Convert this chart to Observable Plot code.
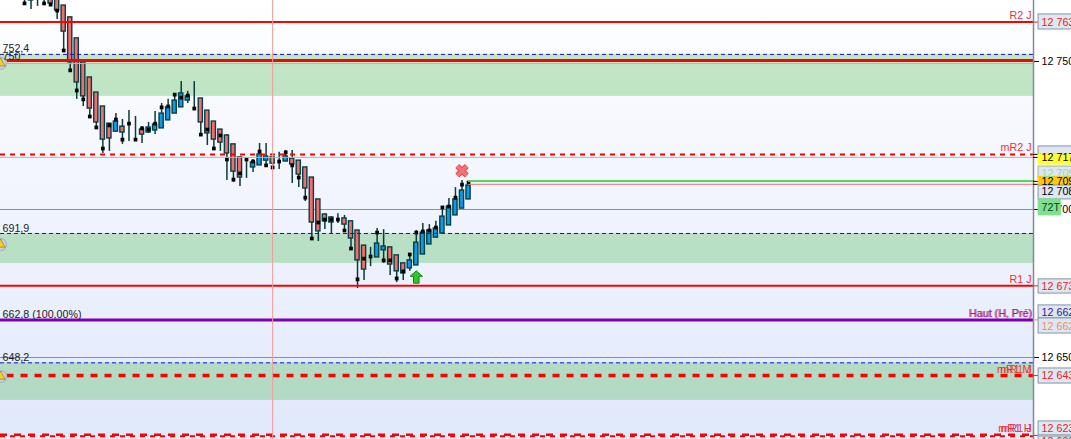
<!DOCTYPE html>
<html><head><meta charset="utf-8">
<style>html,body{margin:0;padding:0;background:#fff;overflow:hidden}svg{display:block}</style>
<script src="https://cdn.jsdelivr.net/npm/d3@7"></script>
<script src="https://cdn.jsdelivr.net/npm/@observablehq/plot@0.6"></script>
</head><body><div id="c"></div>
<script>
const base = 12000;
const open = [774,770.8,773,774,773,772,768.9,764.9,757.8,749.7,744.6,739.5,734.8,729,726.3,728,727.4,727,727,726,726.7,727.4,730.1,732.4,734.5,736.8,737.5,737.5,733.4,729.7,727,725,722,717.6,714.5,714.2,714.9,716.5,717.6,716.2,716.2,717.2,716.5,714.2,710.8,703.4,698.3,695.6,696.6,697,696,692.9,687.8,684.1,683.8,686.2,687.2,684.5,681.8,680.1,681.1,684.8,688.2,690.5,691.9,694.6,698,700.3,703.4];
const close = [773.3,770.6,772,773,769.6,767.2,760.1,749.7,742.9,738.2,734.1,729.4,723.6,724,729.7,726,727.4,727,725.3,727.7,728.7,732.4,734.5,736.8,739.2,738.2,737.5,729.4,725.7,723.6,722.6,718.9,712.8,710.8,714.5,715.9,718.6,717.9,715.5,716.2,717.9,715.2,711.8,707.1,695.6,692.6,696,697.3,696.6,694.9,690.2,682.8,679.7,684.1,688.5,687.5,681.4,679.1,678.4,682.8,688.8,692.2,692.9,693.6,697.6,701,703.4,706.4,708.1];
const high = [774.5,771.5,774,775,774,773,768.9,764.9,757.8,749.7,744.6,739.5,734.8,729,732.4,730.4,733.4,731.4,728,729.4,733.1,735.8,737.2,739.2,743.2,739.9,743.2,737.5,733.4,729.7,727,725.3,722,717.6,717.2,716.9,722.3,722.3,717.6,719.3,719.9,719.9,716.5,714.2,710.8,703.4,698.6,697.6,698.6,698,696,692.9,687.8,687.2,693.6,693.2,687.2,684.5,681.8,685.1,692.9,695.3,694.9,696,700.7,703.7,707.4,709.8,709.1];
const low = [769.6,767.6,768.6,769.6,768.6,764.2,753.7,747,737.2,734.8,731.4,727.7,718.9,719.6,726.3,722,723,723,722.3,725.7,725.3,727.4,730.1,732.4,734.5,735.8,733.4,725.3,721.6,720.3,719.6,709.8,709.1,707.8,710.5,712.5,714.9,714.2,714.2,713.5,716.2,708.8,707.4,702.7,689.5,689.2,693.2,691.9,695.3,692.9,686.8,673.3,676,680.7,683.8,681.8,677.7,675.3,676,679.1,681.1,684.8,688.2,690.5,691.9,694.6,698,700.3,703.4];
const marker = [769.6,773,773,769.6,769.2,767.2,753.7,747,740.2,737.2,731.4,727.7,720.6,728.4,730.4,723.6,729,723.6,727.4,727,729,734.5,734.8,738.8,737.8,738.5,734.1,725.3,727,720.6,725,716.9,710.1,712.2,716.9,716.2,719.6,714.9,714.2,716.2,719.3,714.9,710.8,704,690.2,695.6,696.6,696.6,696.6,692.9,686.8,676.4,683.4,684.1,692.2,682.8,682.8,676.7,679.1,684.8,692.2,692.6,692.9,693.9,700.7,701,704,708.4,709.1];
const bars = open.map((o,i)=>({i,o:base+o,c:base+close[i],h:base+high[i],l:base+low[i],m:base+marker[i]}));

const zoneTop = [12752.4,12691.9,12648.2];
const zoneBottom = [12738.2,12681.8,12635.5];
const gridValues = [12700,12650];
const dashedBlue = [12752.4,12691.9,12648.2];
const solidRed = [12763.3,12674.2];
const thickRed = [12750.3];
const dashedRedThin = [12718.6];
const dashedRedThick = [12643.9];
const dashedRedBottom = [12623.9];
const dashedRedBottom2 = [12623.4];
const pinkLevels = [12749.3,12717.6];
const purpleLevel = [12662.7];
const crossBar = 67, crossPrice = 12713.1, arrowBar = 60, arrowPrice = 12677.2;
const lastBar = 68, greenLevel = 12709.6, salmonLevel = 12708.5;
const cursorBar = 38;

const levelLabels = ["R2 J","mR2 J","R1 J","mR1 J","mR1 M","mR1 J","mR1 H"];
const levelLabelY = [12765.6,12721,12676.4,12645.8,12645.8,12626,12626];
const levelLabelInk = ["#f03030","#f03030","#f03030","#e05050","#f03030","#c04080","#f03030"];
const hautLabel = "Haut (H, Pré)";
const hautY = 12664.8;

const leftLabels = ["752,4","750","691,9","662,8 (100,00%)","648,2"];
const leftLabelY = [12754.4,12751.6,12693.5,12664.6,12650];
const iconPrices = [12749.4,12688.2,12643.6];

const tagText = ["12 763","","12 709","12 717","12 709","12 708","72T","12 673","12 662","12 662","12 643","12 623","12 620"];
const tagMid = [12763.2,12718,12712.2,12717.4,12709.5,12706,12700.7,12674,12665.2,12660.5,12643.9,12626,12621.6];
const tagTop = [12765.9,12721.3,12714.5,12718.6,12711,12708.1,12703.4,12676.4,12667.6,12663.2,12646.3,12628.4,12623.3];
const tagBottom = [12760.8,12718.6,12710.8,12715.2,12708.3,12703.4,12698,12671.6,12663.2,12658.1,12641.2,12623.7,12619];
const tagFill = ["#dde6f2","#dde6f2","#dde6f2","#ffff33","#ffc800","#dde6f2","#7fe08f","#dde6f2","#dde6f2","#dde6f2","#dde6f2","#dde6f2","#dde6f2"];
const tagInk = ["#f02020","#000","#90e090","#000","#000","#000","#0a3a1a","#f02020","#33209a","#f09060","#f02020","#f02020","#f02020"];
const tagStroke = ["#8595a5","#8595a5","#9fb5a5","#ffff33","#ffc800","#8595a5","#7fe08f","#8595a5","#8595a5","#8595a5","#8595a5","#8595a5","#8595a5"];
const tags = tagText.map((t,k)=>({t,mid:tagMid[k],top:tagTop[k],bottom:tagBottom[k],fill:tagFill[k],ink:tagInk[k],stroke:tagStroke[k],end:t==="72T"?158.7:162}));

const tickPrices = [12763.3,12718.6,12717.6,12709.5,12708.5,12674.2,12662.7,12643.9,12623.7];
const tickInk = ["#f02020","#000","#000","#000","#000","#f02020","#f09060","#f02020","#f02020"];

const axisTicks = [12750,12700,12650];
const xDomain = [-3.675,154.52];
const xEnd = xDomain[1], xStart = xDomain[0], tagStart = 155.3;
const up = d => d.c >= d.o;

const arrowSymbol = {draw(ctx,size){const s=Math.sqrt(size)/2;
  ctx.moveTo(0,-s);ctx.lineTo(s,-s*0.1);ctx.lineTo(s*0.45,-s*0.1);ctx.lineTo(s*0.45,s);ctx.lineTo(-s*0.45,s);ctx.lineTo(-s*0.45,-s*0.1);ctx.lineTo(-s,-s*0.1);ctx.closePath();}};

const levels = (vals,opts)=>Plot.ruleY(vals,{x1:xStart,x2:xEnd,...opts});

const chart = Plot.plot({
  width:1071,height:439,marginTop:0,marginBottom:0,marginLeft:0,marginRight:38,
  style:{fontFamily:"'Liberation Sans',Arial,sans-serif",fontSize:"10.7px",
    background:"linear-gradient(to right,transparent 1033px,#fff 1033px),linear-gradient(to bottom,#fff 0%,#e0e8fb 100%)"},
  x:{domain:xDomain,range:[0,1033],axis:null},
  y:{domain:[12622.3,12770.6],range:[439,0],axis:null},
  marks:[
    Plot.rect(zoneTop,{x1:xStart,x2:xEnd,y1:d=>d,y2:(d,k)=>zoneBottom[k],fill:"#5cbf60",fillOpacity:.36}),
    levels(gridValues,{stroke:"#8a8f98",strokeWidth:1}),
    Plot.ruleX(bars,{x:"i",y1:"h",y2:"l",stroke:"#083a3e",strokeWidth:1.5}),
    Plot.rect(bars,{x1:d=>d.i-.32,x2:d=>d.i+.32,y1:"o",y2:"c",fill:d=>up(d)?"#0b9be8":"#f26d6d",stroke:"#083f44",strokeWidth:1.4}),
    Plot.dot(bars,{x:"i",y:"m",symbol:"square",r:2.1,fill:"#000"}),
    levels(pinkLevels,{stroke:"#f59a9a",strokeWidth:1}),
    levels(dashedBlue,{stroke:"#1010e0",strokeWidth:1,strokeDasharray:"4 3"}),
    levels(solidRed,{stroke:"#ff0000",strokeWidth:2}),
    levels(thickRed,{stroke:"#ff0000",strokeWidth:3}),
    levels(dashedRedThin,{stroke:"#ff0000",strokeWidth:2,strokeDasharray:"5 5"}),
    Plot.ruleY(dashedRedThick,{x1:xStart+1,x2:xEnd,stroke:"#ff0000",strokeWidth:3.5,strokeDasharray:"7 7"}),
    levels(dashedRedBottom,{stroke:"#ff0000",strokeWidth:2.5,strokeDasharray:"7 7"}),
    levels(dashedRedBottom2,{stroke:"#ff0000",strokeWidth:2,strokeDasharray:"5 5"}),
    levels(purpleLevel,{stroke:"#7d00b8",strokeWidth:3}),
    Plot.ruleX([cursorBar],{stroke:"#f59a9a",strokeWidth:1}),
    Plot.ruleY([greenLevel],{x1:lastBar,x2:xEnd,stroke:"#55d455",strokeWidth:2}),
    Plot.ruleY([salmonLevel],{x1:lastBar,x2:xEnd,stroke:"#ee7a7a",strokeWidth:1}),
    Plot.dot([crossBar],{x:d=>d,y:[crossPrice],symbol:"times",r:4.4,stroke:"#d84a5a",strokeWidth:5.5}),
    Plot.dot([crossBar],{x:d=>d,y:[crossPrice],symbol:"times",r:4.4,stroke:"#f87272",strokeWidth:3.5}),
    Plot.dot([arrowBar],{x:d=>d,y:[arrowPrice],symbol:arrowSymbol,r:7,fill:"#2fc42f",stroke:"#148a14",strokeWidth:1}),
    Plot.dot(iconPrices,{x:xStart,y:d=>d,r:6,fill:"#c9d3e2",stroke:"#aeb8c8"}),
    Plot.dot(iconPrices,{x:xStart,y:d=>d,symbol:"triangle",r:3.5,fill:"#f0d020",stroke:"#705a00",strokeWidth:.5}),
    Plot.text(leftLabels,{x:xStart,y:(d,k)=>leftLabelY[k],text:d=>d,textAnchor:"start",dx:2,fill:"#222"}),
    Plot.text(levelLabels,{x:xEnd,y:(d,k)=>levelLabelY[k],text:d=>d,textAnchor:"end",dx:-2,fill:(d,k)=>levelLabelInk[k]}),
    Plot.text([hautLabel],{x:xEnd,y:[hautY],text:d=>d,textAnchor:"end",dx:-2,fill:"#e05070"}),
    Plot.text([hautLabel],{x:xEnd,y:[hautY],text:d=>d,textAnchor:"end",dx:-1,fill:"#7a10a8",fillOpacity:.8}),
    Plot.axisY(axisTicks,{anchor:"right",tickSize:5,tickPadding:3,label:null,stroke:"#000",fill:"#000",
      tickFormat:d=>d3.format("d")(d).replace(/^(\d\d)/,"$1 ")}),
    Plot.ruleX([xEnd],{stroke:"#7f8c98",strokeWidth:1.5}),
    Plot.ruleY(tickPrices,{x1:xEnd,x2:tagStart,stroke:(d,k)=>tickInk[k]}),
    Plot.rect(tags,{x1:tagStart,x2:"end",y1:"top",y2:"bottom",fill:"fill",stroke:"stroke"}),
    Plot.text(tags,{x:tagStart,y:"mid",text:"t",fill:"ink",textAnchor:"start",dx:3})
  ]
});
document.getElementById("c").append(chart);
</script></body></html>
